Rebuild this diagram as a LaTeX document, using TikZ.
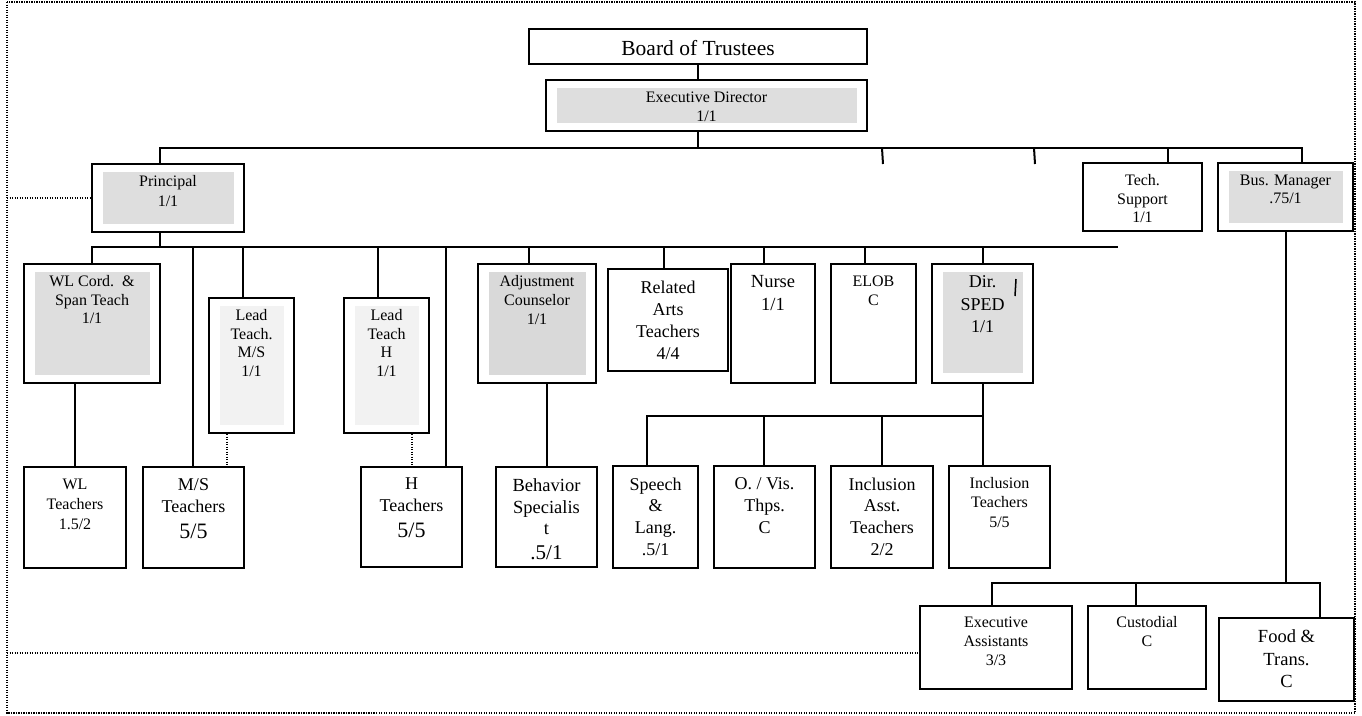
\documentclass[tikz,border=0pt]{standalone}
\usepackage{fontspec}
\setmainfont{Liberation Serif}
\usetikzlibrary{calc}
\newcommand\fsz[2]{\fontsize{#1}{#2}\selectfont}
\definecolor{shadegray}{RGB}{222,222,222}
\definecolor{adjgray}{RGB}{217,217,217}
\definecolor{palegray}{RGB}{242,242,242}
\tikzset{
  unit/.style 2 args={draw, line width=2pt, inner sep=0pt, minimum width=#1pt, minimum height=#2pt},
  shade/.style={path picture={\fill[#1] ([shift={(10.5pt,-8pt)}]path picture bounding box.north west) rectangle ([shift={(-10.5pt,8pt)}]path picture bounding box.south east);}},
  txt/.style 2 args={anchor=north, yshift=-12.5pt, align=center, inner sep=0pt, font=\fsz{#1}{#2}},
  link/.style={line width=2pt},
  guide/.style={line width=1.3pt, dash pattern=on 1.3pt off 1.2pt}
}
\begin{document}
\begin{tikzpicture}[x=1pt,y=-1pt]
	%%%%% FRAME %%%%%
	\useasboundingbox (0,0) rectangle (1362,715);
	\draw[guide] (7,2) rectangle (1355,713);
	
	%%%%% TOP %%%%%
	\node[unit={338}{35}, label={[txt={21.5}{25}, yshift=0.5pt]north:{Board of Trustees}}] (board) at (698,46.5) {};
	\node[unit={321}{51}, shade=shadegray, label={[txt={16}{19}]north:{Executive Director\\1/1}}] (ed) at (706.5,105.5) {};
	\node[unit={152}{68}, shade=shadegray, label={[txt={16}{20}]north:{Principal\\1/1}}] (princ) at (168,198) {};
	\node[unit={119}{68}, label={[txt={16}{18.5}]north:{Tech.\\Support\\1/1}}] (tech) at (1142.5,197) {};
	\node[unit={135}{68}, shade=shadegray, label={[txt={16}{18.5}]north:{Bus. Manager\\.75/1}}] (bus) at (1285.5,197) {};
	
	%%%%% SECOND ROW %%%%%
	\node[unit={136}{119}, shade=shadegray, label={[txt={16}{18.5}]north:{WL Cord.\ \ \&\\Span Teach\\1/1}}] (wlc) at (92,323.5) {};
	\node[unit={85}{135}, shade=palegray, label={[txt={16}{18.7}, yshift=0.5pt]north:{Lead\\Teach.\\M/S\\1/1}}] (leadms) at (251.5,365.5) {};
	\node[unit={85}{135}, shade=palegray, label={[txt={16}{18.7}, yshift=0.5pt]north:{Lead\\Teach\\H\\1/1}}] (leadh) at (386.5,365.5) {};
	\node[unit={118}{119}, shade=adjgray, label={[txt={16}{19}]north:{Adjustment\\Counselor\\1/1}}] (adj) at (537,323.5) {};
	\node[unit={120}{102}, label={[txt={18}{22}]north:{Related\\Arts\\Teachers\\4/4}}] (arts) at (668,320) {};
	\node[unit={84}{119}, label={[txt={18.5}{23}]north:{Nurse\\1/1}}] (nurse) at (773,323.5) {};
	\node[unit={85}{119}, label={[txt={16}{19}]north:{ELOB\\C}}] (elob) at (873.5,323.5) {};
	\node[unit={101}{119}, path picture={\fill[shadegray] ([shift={(10.5pt,-8pt)}]path picture bounding box.north west) rectangle ([shift={(-10.5pt,10pt)}]path picture bounding box.south east);}, label={[txt={18}{22.5}]north:{Dir.\\SPED\\1/1}}] (sped) at (982.5,323.5) {};
	\draw[line width=1.5pt] (1016,279) -- (1015,296);
	
	%%%%% THIRD ROW %%%%%
	\node[unit={102}{101}, label={[txt={16}{20}]north:{WL\\Teachers\\1.5/2}}] (wlt) at (75,517.5) {};
	\node[unit={101}{101}, label={[txt={18}{22}, yshift=0.5pt]north:{M/S\\Teachers\\[4pt]{\fsz{22}{26}5/5}}}] (mst) at (193.5,517.5) {};
	\node[unit={101}{100}, label={[txt={18}{22}, yshift=0.5pt]north:{H\\Teachers\\[4pt]{\fsz{22}{26}5/5}}}] (ht) at (411.5,517) {};
	\node[unit={101}{100}, label={[txt={18.5}{21.5}]north:{Behavior\\Specialis\\t\\[3pt]{\fsz{21}{24}.5/1}}}] (beh) at (546.5,517) {};
	\node[unit={85}{102}, label={[txt={18}{21.7}]north:{Speech\\\&\\Lang.\\.5/1}}] (speech) at (655.5,517) {};
	\node[unit={101}{102}, label={[txt={18}{21.7}]north:{O. / Vis.\\Thps.\\C}}] (ovis) at (764.5,517) {};
	\node[unit={102}{102}, label={[txt={18}{21.7}]north:{Inclusion\\Asst.\\Teachers\\2/2}}] (inca) at (882,517) {};
	\node[unit={101}{102}, label={[txt={16}{19.5}, yshift=0.5pt]north:{Inclusion\\Teachers\\5/5}}] (inct) at (999.5,517) {};
	
	%%%%% BOTTOM ROW %%%%%
	\node[unit={152}{83}, label={[txt={16}{19}, yshift=0.5pt]north:{Executive\\Assistants\\3/3}}] (exa) at (996,647.5) {};
	\node[unit={118}{83}, label={[txt={16}{19}, yshift=1.5pt]north:{Custodial\\C}}] (cust) at (1147,647.5) {};
	\node[unit={135}{83}, label={[txt={18.5}{22.5}]north:{Food \&\\Trans.\\C}}] (food) at (1286.5,659.5) {};
	
	%%%%% LINKS %%%%%
	\coordinate (t1) at (160,148);
	\coordinate (t2) at (1302,148);
	\coordinate (t3) at (1168,148);
	\coordinate (k1) at (882,148);
	\coordinate (k2) at (1034,148);
	\draw[link] (board.south) -- (board.south |- ed.north);
	\draw[link] (board.south |- ed.south) -- (board.south |- t1);
	\draw[link] (t1 |- princ.north) -- (t1) -- (t2) -- (t2 |- bus.north);
	\draw[link] (t3) -- (t3 |- tech.north);
	\draw[link] (k1) -- ++(1,16);
	\draw[link] (k2) -- ++(1,16);
	
	\coordinate (m1) at (92,247);
	\coordinate (m2) at (1118,247);
	\draw[link] (t1 |- princ.south) -- (t1 |- m1);
	\draw[link] (m1 |- wlc.north) -- (m1) -- (m2);
	\foreach \x/\n in {193/mst, 243/leadms, 378/leadh, 446/ht, 529/adj, 664/arts, 764/nurse, 865/elob, 983/sped}{
		\coordinate (d\n) at (\x,247);
		\draw[link] (d\n) -- (d\n |- \n.north);
	}
	
	\draw[link] (wlt.north |- wlc.south) -- (wlt.north);
	\coordinate (a1) at (547,0);
	\draw[link] (a1 |- adj.south) -- (a1 |- beh.north);
	\coordinate (q1) at (227,0);
	\coordinate (q2) at (412,0);
	\draw[guide] (q1 |- leadms.south) -- (q1 |- mst.north);
	\draw[guide] (q2 |- leadh.south) -- (q2 |- ht.north);
	
	\coordinate (s1) at (647,416);
	\coordinate (s2) at (983,416);
	\coordinate (s3) at (764,416);
	\draw[link] (s2 |- sped.south) -- (s2 |- inct.north);
	\draw[link] (s1 |- speech.north) -- (s1) -- (s2);
	\draw[link] (s3) -- (s3 |- ovis.north);
	\draw[link] (inca.north |- s1) -- (inca.north);
	
	\coordinate (b0) at (1286,583);
	\coordinate (b1) at (992,583);
	\coordinate (b2) at (1320,583);
	\coordinate (b3) at (1136,583);
	\draw[link] (b0 |- bus.south) -- (b0);
	\draw[link] (b1 |- exa.north) -- (b1) -- (b2) -- (b2 |- food.north);
	\draw[link] (b3) -- (b3 |- cust.north);
	
	%%%%% DOTTED %%%%%
	\coordinate (g1) at (7,198);
	\coordinate (g2) at (7,653);
	\draw[guide] (g1) -- (g1 -| princ.west);
	\draw[guide] (g2) -- (g2 -| exa.west);
\end{tikzpicture}
\end{document}
